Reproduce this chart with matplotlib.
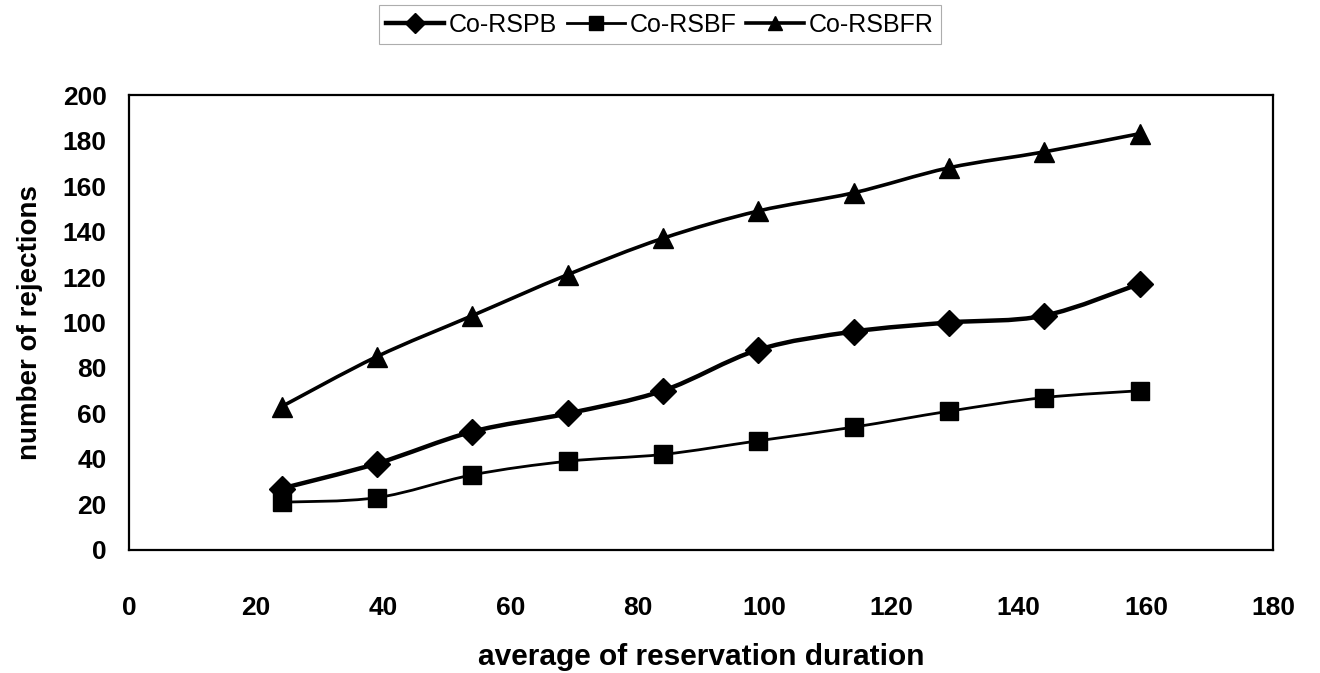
import numpy as np
import matplotlib
matplotlib.use("Agg")
import matplotlib.pyplot as plt
from matplotlib.path import Path
from matplotlib.patches import PathPatch
from matplotlib.lines import Line2D

# -------------------------------------------------------------
# Data
# -------------------------------------------------------------
durations = [24, 39, 54, 69, 84, 99, 114, 129, 144, 159]
co_rspb = [27, 38, 52, 60, 70, 88, 96, 100, 103, 117]
co_rsbf = [21, 23, 33, 39, 42, 48, 54, 61, 67, 70]
co_rsbfr = [63, 85, 103, 121, 137, 149, 157, 168, 175, 183]

series_names = ["Co-RSPB", "Co-RSBF", "Co-RSBFR"]
x_ticks = [0, 20, 40, 60, 80, 100, 120, 140, 160, 180]
y_ticks = [0, 20, 40, 60, 80, 100, 120, 140, 160, 180, 200]

plt.rcParams['font.family'] = ['Liberation Sans', 'DejaVu Sans']
plt.rcParams['font.weight'] = 'bold'


def smooth_path(xs, ys):
    """Excel-like smoothed line: cubic Bezier through every point."""
    pts = np.column_stack([xs, ys]).astype(float)
    n = len(pts)
    verts = [pts[0]]
    codes = [Path.MOVETO]
    for i in range(n - 1):
        p0 = pts[i - 1] if i > 0 else pts[i]
        p1 = pts[i]
        p2 = pts[i + 1]
        p3 = pts[i + 2] if i + 2 < n else pts[i + 1]
        c1 = p1 + (p2 - p0) / 6.0
        c2 = p2 - (p3 - p1) / 6.0
        verts += [c1, c2, p2]
        codes += [Path.CURVE4] * 3
    return Path(verts, codes)


fig = plt.figure(figsize=(13.2, 6.73), dpi=100)
ax = fig.add_axes([0.0977, 0.1828, 0.8667, 0.676])

styles = [
    (co_rspb, 'D', 13, 3.2),
    (co_rsbf, 's', 13, 2.0),
    (co_rsbfr, '^', 14, 2.6),
]

handles = []
for (vals, marker, ms, lw), name in zip(styles, series_names):
    ax.add_patch(PathPatch(smooth_path(durations, vals), facecolor='none',
                           edgecolor='black', linewidth=lw, zorder=2))
    ax.plot(durations, vals, linestyle='none', marker=marker, markersize=ms,
            color='black', zorder=3)
    handles.append(Line2D([0], [0], color='black', linewidth=lw, marker=marker,
                          markersize=ms, label=name))

ax.set_xlim(0, 180)
ax.set_ylim(0, 200)
ax.set_xticks(x_ticks)
ax.set_yticks(y_ticks)
ax.tick_params(axis='both', length=0, labelsize=19)
ax.tick_params(axis='x', pad=33)
ax.tick_params(axis='y', pad=16)
for spine in ax.spines.values():
    spine.set_linewidth(1.6)

ax.set_xlabel('average of reservation duration', fontsize=21.5, fontweight='bold', labelpad=17)
ax.set_ylabel('number of rejections', fontsize=20, fontweight='bold', labelpad=14)

leg = fig.legend(handles=handles, loc='center', bbox_to_anchor=(0.5, 0.963), ncol=3,
                 frameon=True, fancybox=False, handlelength=2.3, markerscale=0.75,
                 handletextpad=0.2, columnspacing=0.4, borderpad=0.3,
                 prop={'weight': 'normal', 'size': 18})
leg.get_frame().set_edgecolor('#999999')
leg.get_frame().set_linewidth(0.8)

fig.savefig('out.png', dpi=100)
